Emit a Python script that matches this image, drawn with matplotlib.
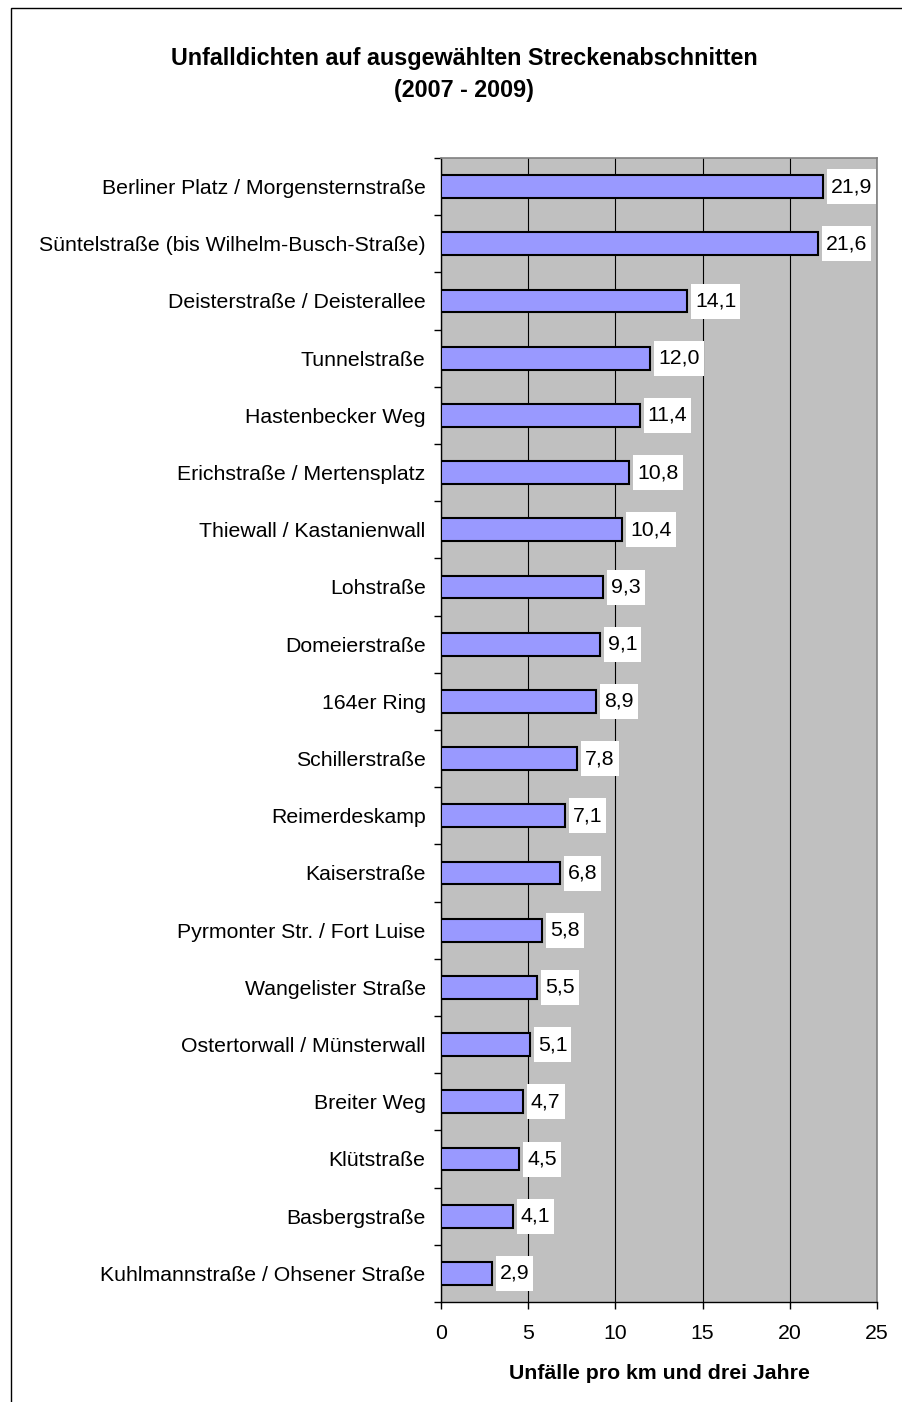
import matplotlib
matplotlib.use("Agg")
from matplotlib import pyplot as plt
from matplotlib.path import Path
from matplotlib.patches import Rectangle
import numpy as np

plt.rcParams['font.family'] = ['Liberation Sans', 'DejaVu Sans']

# Streckenabschnitte und Unfalldichten (Unfälle pro km, 2007 - 2009)
streets = [
    "Berliner Platz / Morgensternstraße",
    "Süntelstraße (bis Wilhelm-Busch-Straße)",
    "Deisterstraße / Deisterallee",
    "Tunnelstraße",
    "Hastenbecker Weg",
    "Erichstraße / Mertensplatz",
    "Thiewall / Kastanienwall",
    "Lohstraße",
    "Domeierstraße",
    "164er Ring",
    "Schillerstraße",
    "Reimerdeskamp",
    "Kaiserstraße",
    "Pyrmonter Str. / Fort Luise",
    "Wangelister Straße",
    "Ostertorwall / Münsterwall",
    "Breiter Weg",
    "Klütstraße",
    "Basbergstraße",
    "Kuhlmannstraße / Ohsener Straße",
]
density = [21.9, 21.6, 14.1, 12.0, 11.4, 10.8, 10.4, 9.3, 9.1, 8.9,
           7.8, 7.1, 6.8, 5.8, 5.5, 5.1, 4.7, 4.5, 4.1, 2.9]
x_ticks = [0, 5, 10, 15, 20, 25]

title = "Unfalldichten auf ausgewählten Streckenabschnitten\n(2007 - 2009)"
x_label = "Unfälle pro km und drei Jahre"

FS = 15.3  # normal text size


def label_box(x0, y0, width, height, mutation_size):
    # white box, taller padding than wide padding (pixels)
    px, py = 4, 8
    x0, y0 = x0 - px, y0 - py
    x1, y1 = x0 + width + 2 * px, y0 + height + 2 * py
    return Path([(x0, y0), (x1, y0), (x1, y1), (x0, y1), (x0, y0)], closed=True)


W, H = 903, 1402
fig = plt.figure(figsize=(W / 100, H / 100), dpi=100)
fig.patch.set_facecolor("white")

# outer frame (cut off at right and bottom)
fig.patches.append(Rectangle((11 / W, -0.05), 1.2, 1 - 8 / H + 0.05,
                             transform=fig.transFigure, fill=False,
                             edgecolor="black", linewidth=1.0))

ax_left, ax_right, ax_top, ax_bottom = 441, 877, 158, 1302
ax = fig.add_axes([ax_left / W, 1 - ax_bottom / H,
                   (ax_right - ax_left) / W, (ax_bottom - ax_top) / H])
ax.set_facecolor("#C0C0C0")

y = np.arange(len(streets))
ax.barh(y, density, height=0.4, color="#9999FF", edgecolor="black",
        linewidth=1.5, zorder=3)

for yi, v in zip(y, density):
    ax.annotate(f"{v:.1f}".replace(".", ","), xy=(v, yi), xytext=(8, 0),
                textcoords="offset pixels", ha="left", va="center",
                fontsize=FS, zorder=4,
                bbox=dict(boxstyle=label_box, facecolor="white",
                          edgecolor="none"))

ax.set_xlim(0, 25)
ax.set_ylim(len(streets) - 0.5, -0.5)

ax.set_xticks(x_ticks)
ax.set_xticklabels([str(t) for t in x_ticks], fontsize=FS)
ax.tick_params(axis="x", direction="out", length=5, width=1, pad=11)

ax.set_yticks(y)
ax.set_yticklabels(streets, fontsize=FS)
ax.set_yticks(np.arange(len(streets) + 1) - 0.5, minor=True)
ax.tick_params(axis="y", which="major", length=0, pad=11)
ax.tick_params(axis="y", which="minor", direction="out", length=5, width=1)

ax.xaxis.grid(True, color="black", linewidth=0.8)
ax.set_axisbelow(True)

for side in ("top", "right"):
    ax.spines[side].set_color("#808080")
    ax.spines[side].set_linewidth(1.2)
for side in ("left", "bottom"):
    ax.spines[side].set_color("black")
    ax.spines[side].set_linewidth(1.0)

ax.set_xlabel(x_label, fontsize=15.3, fontweight="bold", labelpad=15)

fig.text(464 / W, 1 - 75 / H, title, ha="center", va="center",
         fontsize=16.8, fontweight="bold", linespacing=1.5)

fig.savefig("out.png", dpi=100)
